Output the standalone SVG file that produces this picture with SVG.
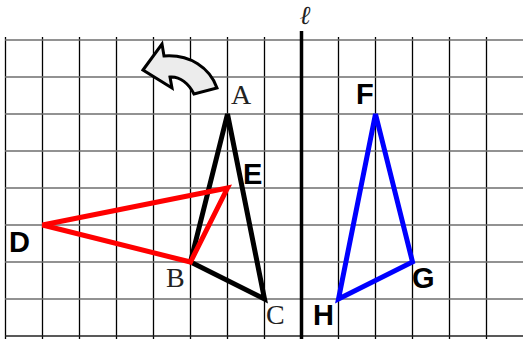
<svg xmlns="http://www.w3.org/2000/svg" width="523" height="339" viewBox="0 0 523 339">
<style>
.h{stroke:#6e6e6e;stroke-width:1.6}
.v{stroke:#000;stroke-width:1.3}
.tri{fill:none;stroke-width:5;stroke-linejoin:miter}
.serif{font-family:"Liberation Serif","Times New Roman",serif;font-size:28px;fill:#222}
.sans{font-family:"Liberation Sans",Arial,sans-serif;font-weight:bold;font-size:29px;fill:#000}
</style>
<rect width="523" height="339" fill="#fff"/>
<g id="grid">
<g class="v">
<line x1="5.5" y1="37" x2="5.5" y2="339"/>
<line x1="42.5" y1="37" x2="42.5" y2="339"/>
<line x1="79.5" y1="37" x2="79.5" y2="339"/>
<line x1="116.5" y1="37" x2="116.5" y2="339"/>
<line x1="153.5" y1="37" x2="153.5" y2="339"/>
<line x1="190.5" y1="37" x2="190.5" y2="339"/>
<line x1="227.5" y1="37" x2="227.5" y2="339"/>
<line x1="264.5" y1="37" x2="264.5" y2="339"/>
<line x1="338.5" y1="37" x2="338.5" y2="339"/>
<line x1="375.5" y1="37" x2="375.5" y2="339"/>
<line x1="412.5" y1="37" x2="412.5" y2="339"/>
<line x1="449.5" y1="37" x2="449.5" y2="339"/>
<line x1="486.5" y1="37" x2="486.5" y2="339"/>
</g>
<g class="h">
<line x1="5" y1="40" x2="523" y2="40"/>
<line x1="5" y1="77" x2="523" y2="77"/>
<line x1="5" y1="114" x2="523" y2="114"/>
<line x1="5" y1="151" x2="523" y2="151"/>
<line x1="5" y1="188" x2="523" y2="188"/>
<line x1="5" y1="225" x2="523" y2="225"/>
<line x1="5" y1="262" x2="523" y2="262"/>
<line x1="5" y1="299" x2="523" y2="299"/>
<line x1="5" y1="336" x2="523" y2="336" stroke="#222"/>
</g>
</g>
<g id="axis">
<line x1="301.5" y1="31" x2="301.5" y2="339" stroke="#000" stroke-width="3.5"/>
<text x="305" y="24" text-anchor="middle" font-family="'DejaVu Serif',serif" font-style="italic" font-size="26" fill="#222">ℓ</text>
</g>
<g id="rotation-arrow">
<path d="M143,70 L162,44 L164,56 C190,54 210,68 217,88 L194,94 C189,84 180,76 170,77 L172,88 Z" fill="#ececec" stroke="#000" stroke-width="3" stroke-linejoin="miter"/>
</g>
<g id="connectors">
<polygon id="triangle-ABC" class="tri" stroke="#000" points="227.5,114 190.5,262 264.5,299"/>
<polygon id="triangle-DEB" class="tri" stroke="#ff0000" points="42.5,225 227.5,188 190.5,262"/>
<polygon id="triangle-FGH" class="tri" stroke="#0000ff" points="375.5,114 412.5,262 338.5,299"/>
</g>
<g id="node-A"><text class="serif" x="231" y="104">A</text></g>
<g id="node-B"><text class="serif" x="166" y="286.5">B</text></g>
<g id="node-C"><text class="serif" x="266" y="324">C</text></g>
<g id="node-D"><text class="sans" x="9" y="252.3">D</text></g>
<g id="node-E"><text class="sans" x="243" y="184.3">E</text></g>
<g id="node-F"><text class="sans" x="356" y="104.3">F</text></g>
<g id="node-G"><text class="sans" x="412" y="288">G</text></g>
<g id="node-H"><text class="sans" x="313" y="325">H</text></g>
</svg>
